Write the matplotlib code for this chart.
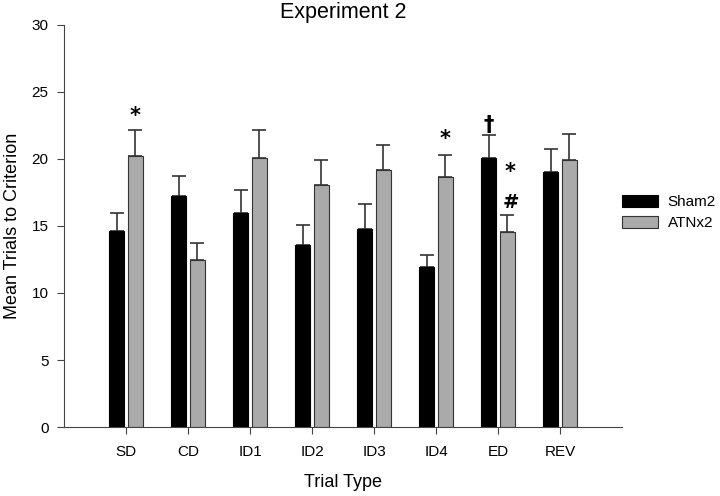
import matplotlib
matplotlib.use("Agg")
import matplotlib.pyplot as plt
import numpy as np

plt.rcParams['font.family'] = ['Liberation Sans', 'DejaVu Sans']

categories = ["SD", "CD", "ID1", "ID2", "ID3", "ID4", "ED", "REV"]
sham = [14.6, 17.2, 15.95, 13.55, 14.75, 11.9, 20.05, 19.05]
sham_err = [1.4, 1.55, 1.75, 1.5, 1.9, 0.9, 1.7, 1.7]
atn = [20.25, 12.45, 20.1, 18.05, 19.15, 18.65, 14.55, 19.95]
atn_err = [1.9, 1.25, 2.05, 1.9, 1.85, 1.65, 1.25, 1.9]
# annotations: (category index, series side, y value, symbol)
annot_idx = [0, 5, 6, 6, 6]
annot_side = [1, 1, -1, 1, 1]
annot_y = [23.2, 21.5, 22.55, 19.0, 16.75]
annot_sym = ["*", "*", "\u2020", "*", "#"]

fig = plt.figure(figsize=(7.2, 4.96), dpi=100)
ax = fig.add_axes([0.0889, 0.139, 0.775, 0.811])

x = np.arange(len(categories))
w = 0.24
off = 0.15
ax.bar(x - off, sham, w, color='black', edgecolor='black', linewidth=0.8, label='Sham2', zorder=2)
ax.bar(x + off, atn, w, color='#aaaaaa', edgecolor='#333333', linewidth=0.8, label='ATNx2', zorder=2)
ax.errorbar(x - off, sham, yerr=[np.zeros(len(sham)), sham_err], fmt='none', ecolor='#333333',
            elinewidth=1.2, capsize=5, capthick=1.2, zorder=1)
ax.errorbar(x + off, atn, yerr=[np.zeros(len(atn)), atn_err], fmt='none', ecolor='#333333',
            elinewidth=1.2, capsize=5, capthick=1.2, zorder=1)

for i, s, yv, sym in zip(annot_idx, annot_side, annot_y, annot_sym):
    dx = 0.05 if (sym in ['*', '#'] and i == 6) else 0
    ax.text(x[i] + s * off + dx, yv, sym,
            ha='center', va='center', fontsize=15 if sym != '#' else 14, fontweight='bold',
            family=['DejaVu Sans'])

ax.set_xlim(-1, 8)
ax.set_ylim(0, 30)
ax.set_yticks([0, 5, 10, 15, 20, 25, 30])
ax.set_xticks(x)
ax.set_xticklabels(categories)
ax.spines['top'].set_visible(False)
ax.spines['right'].set_visible(False)
ax.spines['left'].set_color('#444444')
ax.spines['bottom'].set_color('#444444')
ax.tick_params(axis='both', direction='out', length=5, color='#444444', labelsize=11, pad=6)
ax.tick_params(axis='x', pad=8)
ax.set_xlabel('Trial Type', fontsize=13, labelpad=11)
ax.set_ylabel('Mean Trials to Criterion', fontsize=13, labelpad=8)
ax.set_title('Experiment 2', fontsize=15.5, pad=5)

ax.legend(loc='center left', bbox_to_anchor=(1.0, 0.533), frameon=False, fontsize=11,
          handlelength=2.35, handleheight=0.85, handletextpad=0.65, labelspacing=0.45,
          borderaxespad=0.0, borderpad=0.0)

fig.savefig('out.png', dpi=100)
